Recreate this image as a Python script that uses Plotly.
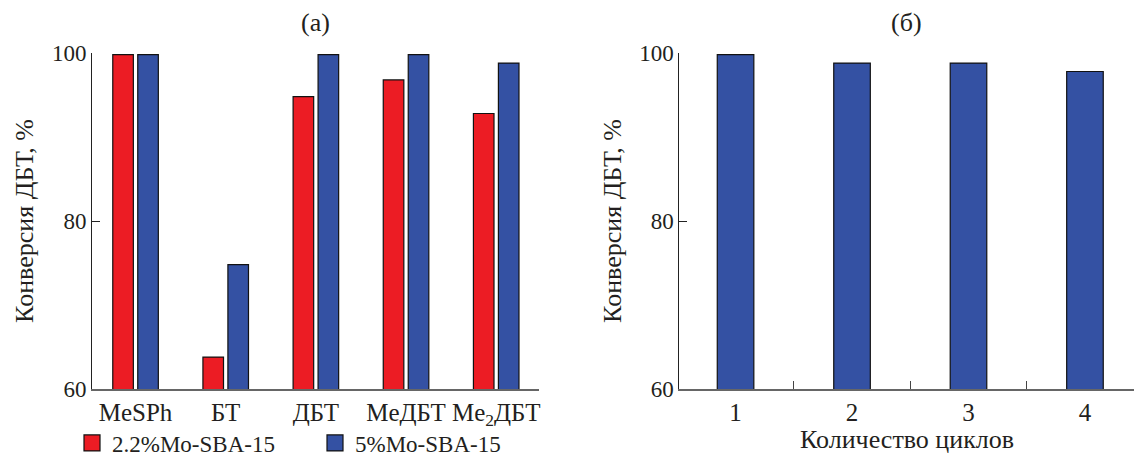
import plotly.graph_objects as go

# Data
compounds = ["MeSPh", "БТ", "ДБТ", "MeДБТ", "Me<sub>2</sub>ДБТ"]
conv_22 = [99.8, 63.8, 94.8, 96.8, 92.8]
conv_5 = [99.8, 74.8, 99.8, 99.8, 98.8]
cycles = ["1", "2", "3", "4"]
conv_cycles = [99.8, 98.8, 98.8, 97.8]
name_22 = "2.2%Mo-SBA-15"
name_5 = "5%Mo-SBA-15"
ytitle = "Конверсия ДБТ, %"
xtitle_b = "Количество циклов"

RED = "#EC1C24"
BLUE = "#3451A3"
FONT = "Liberation Serif"
TXT = "#231F20"

W, H = 1134, 459
ML, MT, MB = 92, 53, 70
pw = W - ML
ph = H - MT - MB
dom_a = [0, (539.3 - ML) / pw]
dom_b = [(679.3 - ML) / pw, 1]
OUT = dict(color="#111", width=1.2)

fig = go.Figure()
fig.add_trace(go.Bar(x=compounds, y=conv_22, name=name_22, marker_color=RED,
                     marker_line=OUT, showlegend=False, xaxis="x", yaxis="y"))
fig.add_trace(go.Bar(x=compounds, y=conv_5, name=name_5, marker_color=BLUE,
                     marker_line=OUT, showlegend=False, xaxis="x", yaxis="y"))
fig.add_trace(go.Bar(x=cycles, y=conv_cycles, showlegend=False, marker_color=BLUE,
                     marker_line=OUT, width=0.314, xaxis="x2", yaxis="y2"))
# legend entries (square swatches)
for nm, col in [(name_22, RED), (name_5, BLUE)]:
    fig.add_trace(go.Scatter(x=[None], y=[None], mode="markers", name=nm,
                             marker=dict(symbol="square", size=16, color=col,
                                         line=dict(color="#111", width=1.2)),
                             xaxis="x", yaxis="y"))

yax = dict(range=[60, 100], tickvals=[60, 80, 100], ticks="inside", ticklen=8,
           tickcolor="#222", showline=True, linecolor="#222", linewidth=1,
           showgrid=False, zeroline=False,
           tickfont=dict(family=FONT, size=23, color=TXT),
           title=dict(text=ytitle, font=dict(family=FONT, size=26, color=TXT), standoff=10))

fig.update_layout(
    width=W, height=H,
    margin=dict(l=ML, r=0, t=MT, b=MB, autoexpand=False),
    paper_bgcolor="white", plot_bgcolor="white",
    barmode="group", bargap=0.446, bargroupgap=0.176,
    font=dict(family=FONT, size=23, color=TXT),
    xaxis=dict(domain=dom_a, anchor="y", range=[-0.483, 4.478], type="category",
               showline=True, linecolor="#666", linewidth=1.5, ticks="",
               showgrid=False, tickfont=dict(family=FONT, size=25, color=TXT)),
    yaxis=dict(anchor="x", **yax),
    xaxis2=dict(domain=dom_b, anchor="y2", range=[-0.483, 3.421], type="category",
                showline=True, linecolor="#666", linewidth=1.5, ticks="inside",
                tickson="boundaries", ticklen=8, tickcolor="#444",
                showgrid=False, tickfont=dict(family=FONT, size=25, color=TXT)),
    yaxis2=dict(anchor="x2", **yax),
    legend=dict(orientation="h", x=(72 - ML) / pw, xanchor="left",
                yref="container", y=(H - 443) / H, yanchor="middle", entrywidth=198,
                font=dict(family=FONT, size=23, color=TXT),
                bgcolor="rgba(0,0,0,0)", tracegroupgap=0, itemsizing="trace"),
    showlegend=True,
)

fig.add_annotation(text="(а)", xref="x domain", yref="paper", x=0.5,
                   y=(H - MB - 22) / ph, yanchor="middle",
                   showarrow=False, font=dict(family=FONT, size=26, color=TXT))
fig.add_annotation(text="(б)", xref="x2 domain", yref="paper", x=0.5,
                   y=(H - MB - 22) / ph, yanchor="middle",
                   showarrow=False, font=dict(family=FONT, size=26, color=TXT))
fig.add_annotation(text=xtitle_b, xref="x2 domain", yref="paper", x=0.5,
                   y=(H - MB - 440) / ph, yanchor="middle",
                   showarrow=False, font=dict(family=FONT, size=26, color=TXT))

fig.write_html("out.html")
